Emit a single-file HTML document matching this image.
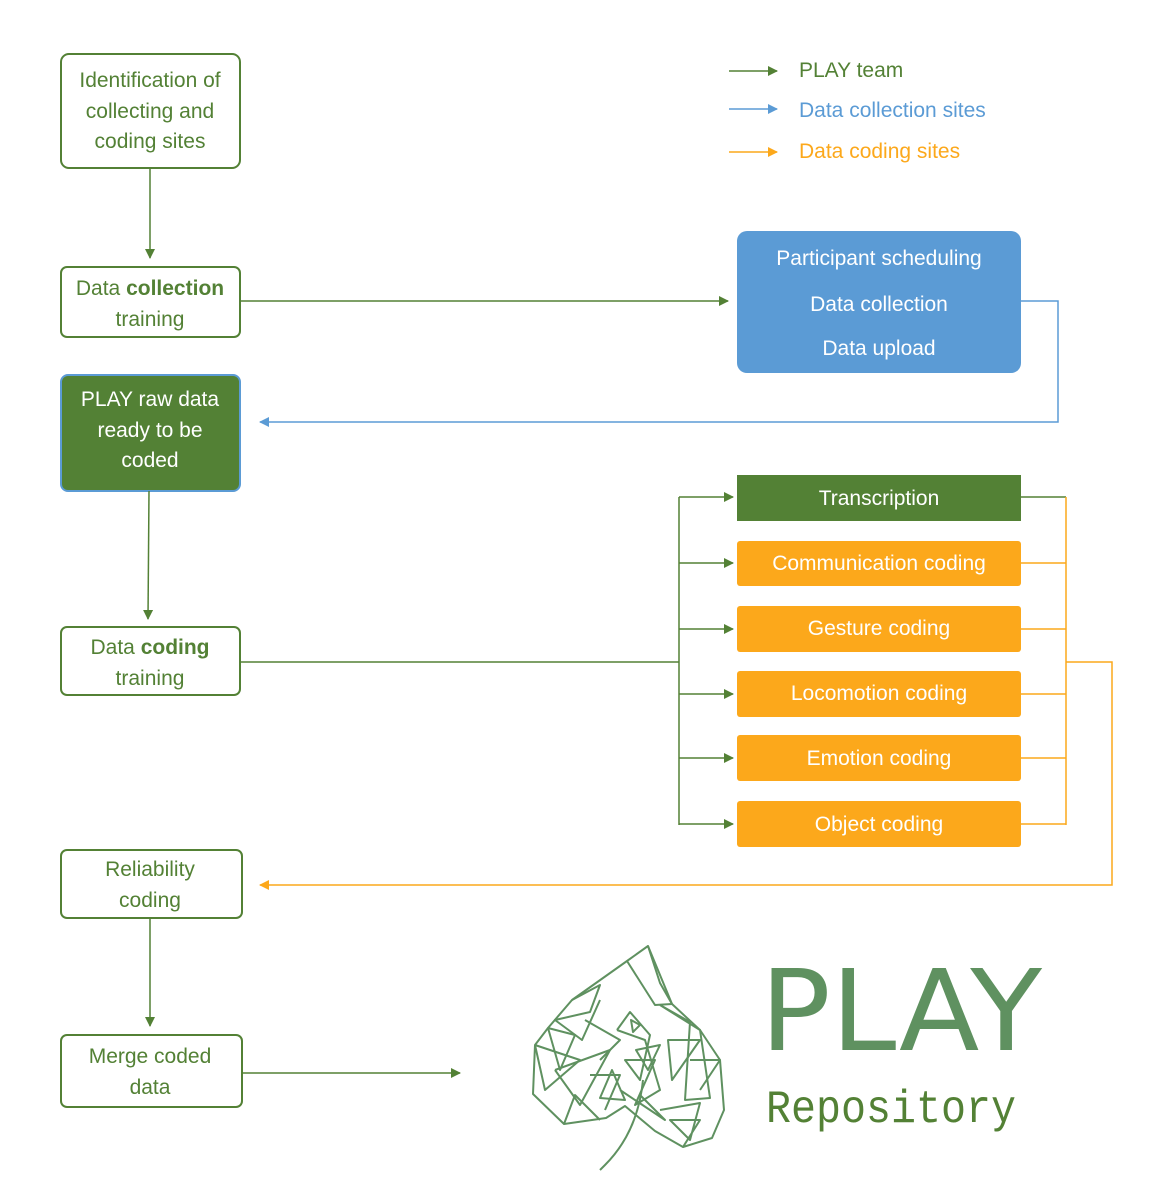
<!DOCTYPE html>
<html><head><meta charset="utf-8"><style>
html,body{margin:0;padding:0;background:#fff;}
svg{display:block;}
text{font-family:"Liberation Sans",sans-serif;}
</style></head><body>
<svg width="1164" height="1202" viewBox="0 0 1164 1202" xmlns="http://www.w3.org/2000/svg">
<defs>
<marker id="ag" markerWidth="10" markerHeight="10" refX="9" refY="5" orient="auto" markerUnits="userSpaceOnUse"><path d="M0,0 L10,5 L0,10 z" fill="#538135"/></marker>
<marker id="ab" markerWidth="10" markerHeight="10" refX="9" refY="5" orient="auto" markerUnits="userSpaceOnUse"><path d="M0,0 L10,5 L0,10 z" fill="#5b9bd5"/></marker>
<marker id="ao" markerWidth="10" markerHeight="10" refX="9" refY="5" orient="auto" markerUnits="userSpaceOnUse"><path d="M0,0 L10,5 L0,10 z" fill="#fca81b"/></marker>
</defs>
<!-- legend -->
<line x1="729" y1="71" x2="777" y2="71" stroke="#538135" stroke-width="1.5" marker-end="url(#ag)"/>
<line x1="729" y1="109" x2="777" y2="109" stroke="#5b9bd5" stroke-width="1.5" marker-end="url(#ab)"/>
<line x1="729" y1="152" x2="777" y2="152" stroke="#fca81b" stroke-width="1.5" marker-end="url(#ao)"/>
<g font-size="21">
<text x="799" y="77" fill="#538135">PLAY team</text>
<text x="799" y="117" fill="#5b9bd5">Data collection sites</text>
<text x="799" y="158" fill="#fca81b">Data coding sites</text>
</g>
<!-- left boxes -->
<g fill="#fff" stroke="#538135" stroke-width="2">
<rect x="61" y="54" width="179" height="114" rx="8"/>
<rect x="61" y="267" width="179" height="70" rx="6"/>
<rect x="61" y="627" width="179" height="68" rx="6"/>
<rect x="61" y="850" width="181" height="68" rx="6"/>
<rect x="61" y="1035" width="181" height="72" rx="6"/>
</g>
<rect x="61" y="375" width="179" height="116" rx="7" fill="#538135" stroke="#5b9bd5" stroke-width="2"/>
<g font-size="21" fill="#538135" text-anchor="middle">
<text x="150" y="87">Identification of</text>
<text x="150" y="118">collecting and</text>
<text x="150" y="148">coding sites</text>
<text x="150" y="295">Data <tspan font-weight="bold">collection</tspan></text>
<text x="150" y="326">training</text>
<text x="150" y="654">Data <tspan font-weight="bold">coding</tspan></text>
<text x="150" y="685">training</text>
<text x="150" y="876">Reliability</text>
<text x="150" y="907">coding</text>
<text x="150" y="1063">Merge coded</text>
<text x="150" y="1094">data</text>
</g>
<g font-size="21" fill="#fff" text-anchor="middle">
<text x="150" y="406">PLAY raw data</text>
<text x="150" y="437">ready to be</text>
<text x="150" y="467">coded</text>
</g>
<!-- blue box -->
<rect x="737" y="231" width="284" height="142" rx="10" fill="#5b9bd5"/>
<g font-size="21" fill="#fff" text-anchor="middle">
<text x="879" y="265">Participant scheduling</text>
<text x="879" y="311">Data collection</text>
<text x="879" y="355">Data upload</text>
</g>
<!-- coding boxes -->
<rect x="737" y="475" width="284" height="46" fill="#538135"/>
<g fill="#fca81b">
<rect x="737" y="541" width="284" height="45" rx="3"/>
<rect x="737" y="606" width="284" height="46" rx="3"/>
<rect x="737" y="671" width="284" height="46" rx="3"/>
<rect x="737" y="735" width="284" height="46" rx="3"/>
<rect x="737" y="801" width="284" height="46" rx="3"/>
</g>
<g font-size="21" fill="#fff" text-anchor="middle">
<text x="879" y="505">Transcription</text>
<text x="879" y="570">Communication coding</text>
<text x="879" y="635">Gesture coding</text>
<text x="879" y="700">Locomotion coding</text>
<text x="879" y="765">Emotion coding</text>
<text x="879" y="831">Object coding</text>
</g>
<!-- connectors -->
<g fill="none" stroke-width="1.5">
<line x1="150" y1="168" x2="150" y2="258" stroke="#538135" marker-end="url(#ag)"/>
<line x1="240" y1="301" x2="728" y2="301" stroke="#538135" marker-end="url(#ag)"/>
<polyline points="1021,301 1058,301 1058,422 260,422" stroke="#5b9bd5" marker-end="url(#ab)"/>
<line x1="149" y1="491" x2="148" y2="619" stroke="#538135" marker-end="url(#ag)"/>
<line x1="240" y1="662" x2="679" y2="662" stroke="#538135"/>
<line x1="679" y1="497" x2="679" y2="825" stroke="#538135"/>
<line x1="679" y1="497" x2="733" y2="497" stroke="#538135" marker-end="url(#ag)"/>
<line x1="679" y1="563" x2="733" y2="563" stroke="#538135" marker-end="url(#ag)"/>
<line x1="679" y1="629" x2="733" y2="629" stroke="#538135" marker-end="url(#ag)"/>
<line x1="679" y1="694" x2="733" y2="694" stroke="#538135" marker-end="url(#ag)"/>
<line x1="679" y1="758" x2="733" y2="758" stroke="#538135" marker-end="url(#ag)"/>
<line x1="679" y1="824" x2="733" y2="824" stroke="#538135" marker-end="url(#ag)"/>
<line x1="1021" y1="497" x2="1066" y2="497" stroke="#538135"/>
<line x1="1066" y1="497" x2="1066" y2="825" stroke="#fca81b"/>
<line x1="1021" y1="563" x2="1066" y2="563" stroke="#fca81b"/>
<line x1="1021" y1="629" x2="1066" y2="629" stroke="#fca81b"/>
<line x1="1021" y1="694" x2="1066" y2="694" stroke="#fca81b"/>
<line x1="1021" y1="758" x2="1066" y2="758" stroke="#fca81b"/>
<line x1="1021" y1="824" x2="1066" y2="824" stroke="#fca81b"/>
<polyline points="1066,662 1112,662 1112,885 260,885" stroke="#fca81b" marker-end="url(#ao)"/>
<line x1="150" y1="918" x2="150" y2="1026" stroke="#538135" marker-end="url(#ag)"/>
<line x1="242" y1="1073" x2="460" y2="1073" stroke="#538135" marker-end="url(#ag)"/>
</g>
<!-- leaf logo -->
<g fill="none" stroke="#5f9160" stroke-width="2" stroke-linejoin="round">
<path d="M627,961 L572,1000 L548,1028 L535,1045 L533,1094 L564,1124 L606,1118 L625,1106 L655,1131 L683,1147 L712,1138 L724,1110 L720,1060 L700,1030 L672,1004 L660,983 L648,946 L627,961 Z"/>
<path d="M627,961 L655,1005 L672,1004 L648,946"/>
<path d="M572,1000 L600,985 L590,1012 L555,1020 L582,1040 L600,1000"/>
<path d="M535,1045 L580,1060 L545,1090 L535,1045 M548,1028 L575,1035 L560,1070 Z"/>
<path d="M555,1070 L610,1050 L580,1105 L555,1070 M564,1124 L575,1095 L600,1120"/>
<path d="M617,1030 L630,1012 L650,1035 L640,1080 L625,1060 L655,1060 L635,1105 L660,1090 L645,1040 L617,1030"/>
<path d="M631,1020 L640,1025 L633,1032 Z M636,1050 L660,1045 L648,1070 Z"/>
<path d="M660,1005 L690,1022 L685,1100 L710,1098 L700,1030 L660,1005"/>
<path d="M668,1040 L700,1040 L672,1080 Z M690,1060 L720,1060 L700,1090"/>
<path d="M660,1110 L700,1103 L690,1140 L670,1120 L700,1120 L683,1147"/>
<path d="M612,1070 L625,1100 L600,1098 Z M620,1090 L665,1120 L640,1095"/>
<path d="M643,1080 C640,1110 630,1140 605,1165 L600,1170"/>
<path d="M585,1020 L620,1040 L600,1060 M590,1075 L620,1075 L605,1110"/>
</g>
<text x="760" y="1050" style="font-family:'DejaVu Sans',sans-serif;font-size:112px" fill="#5f9160" textLength="282" lengthAdjust="spacingAndGlyphs">PLAY</text>
<text x="766" y="1122" style="font-family:'Liberation Mono',monospace;font-size:46px" fill="#538135" textLength="250" lengthAdjust="spacingAndGlyphs">Repository</text>
</svg>
</body></html>
